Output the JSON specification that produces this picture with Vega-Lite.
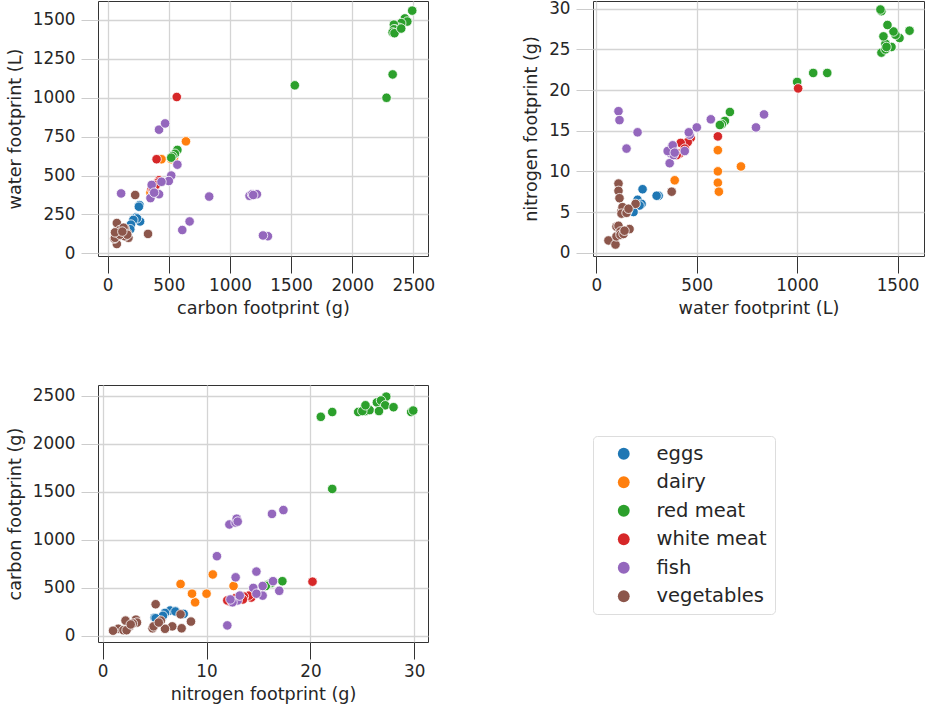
{
 "$schema": "https://vega.github.io/schema/vega-lite/v6.json",
 "background": "white",
 "padding": {"left": 5, "top": 0, "right": 0, "bottom": 0},
 "datasets": {"foods": [
  {"category":"eggs","carbon":260,"water":310,"nitrogen":7.0},
  {"category":"eggs","carbon":230,"water":230,"nitrogen":7.8},
  {"category":"eggs","carbon":265,"water":205,"nitrogen":6.5},
  {"category":"eggs","carbon":240,"water":225,"nitrogen":6.0},
  {"category":"eggs","carbon":210,"water":215,"nitrogen":5.8},
  {"category":"eggs","carbon":190,"water":185,"nitrogen":5.0},
  {"category":"eggs","carbon":185,"water":155,"nitrogen":5.1},
  {"category":"eggs","carbon":255,"water":300,"nitrogen":7.0},
  {"category":"dairy","carbon":640,"water":720,"nitrogen":10.6},
  {"category":"dairy","carbon":350,"water":390,"nitrogen":8.9},
  {"category":"dairy","carbon":520,"water":605,"nitrogen":12.6},
  {"category":"dairy","carbon":440,"water":605,"nitrogen":10.0},
  {"category":"dairy","carbon":440,"water":605,"nitrogen":8.6},
  {"category":"dairy","carbon":540,"water":610,"nitrogen":7.5},
  {"category":"red meat","carbon":2490,"water":1560,"nitrogen":27.3},
  {"category":"red meat","carbon":2430,"water":1510,"nitrogen":26.4},
  {"category":"red meat","carbon":2450,"water":1490,"nitrogen":26.8},
  {"category":"red meat","carbon":2400,"water":1480,"nitrogen":27.2},
  {"category":"red meat","carbon":2380,"water":1450,"nitrogen":28.0},
  {"category":"red meat","carbon":2340,"water":1470,"nitrogen":25.3},
  {"category":"red meat","carbon":2350,"water":1440,"nitrogen":25.7},
  {"category":"red meat","carbon":2340,"water":1430,"nitrogen":26.6},
  {"category":"red meat","carbon":2330,"water":1420,"nitrogen":24.6},
  {"category":"red meat","carbon":2340,"water":1440,"nitrogen":25.0},
  {"category":"red meat","carbon":2330,"water":1420,"nitrogen":29.7},
  {"category":"red meat","carbon":2345,"water":1415,"nitrogen":29.9},
  {"category":"red meat","carbon":2400,"water":1445,"nitrogen":25.3},
  {"category":"red meat","carbon":2330,"water":1150,"nitrogen":22.1},
  {"category":"red meat","carbon":2280,"water":1000,"nitrogen":21.0},
  {"category":"red meat","carbon":1530,"water":1080,"nitrogen":22.1},
  {"category":"red meat","carbon":570,"water":665,"nitrogen":17.3},
  {"category":"red meat","carbon":550,"water":640,"nitrogen":16.2},
  {"category":"red meat","carbon":530,"water":625,"nitrogen":15.8},
  {"category":"red meat","carbon":520,"water":615,"nitrogen":15.7},
  {"category":"white meat","carbon":565,"water":1005,"nitrogen":20.2},
  {"category":"white meat","carbon":400,"water":605,"nitrogen":14.3},
  {"category":"white meat","carbon":420,"water":470,"nitrogen":14.1},
  {"category":"white meat","carbon":410,"water":455,"nitrogen":13.6},
  {"category":"white meat","carbon":380,"water":420,"nitrogen":13.5},
  {"category":"white meat","carbon":360,"water":415,"nitrogen":12.2},
  {"category":"white meat","carbon":395,"water":440,"nitrogen":12.8},
  {"category":"white meat","carbon":370,"water":400,"nitrogen":12.0},
  {"category":"fish","carbon":1310,"water":110,"nitrogen":17.4},
  {"category":"fish","carbon":1270,"water":115,"nitrogen":16.3},
  {"category":"fish","carbon":1160,"water":370,"nitrogen":12.2},
  {"category":"fish","carbon":1180,"water":380,"nitrogen":12.8},
  {"category":"fish","carbon":1220,"water":380,"nitrogen":12.9},
  {"category":"fish","carbon":1190,"water":375,"nitrogen":13.0},
  {"category":"fish","carbon":830,"water":365,"nitrogen":11.0},
  {"category":"fish","carbon":110,"water":385,"nitrogen":12.0},
  {"category":"fish","carbon":610,"water":150,"nitrogen":12.8},
  {"category":"fish","carbon":670,"water":205,"nitrogen":14.8},
  {"category":"fish","carbon":420,"water":795,"nitrogen":15.4},
  {"category":"fish","carbon":470,"water":835,"nitrogen":17.0},
  {"category":"fish","carbon":570,"water":570,"nitrogen":16.4},
  {"category":"fish","carbon":520,"water":500,"nitrogen":15.4},
  {"category":"fish","carbon":500,"water":465,"nitrogen":14.5},
  {"category":"fish","carbon":440,"water":460,"nitrogen":14.8},
  {"category":"fish","carbon":360,"water":440,"nitrogen":12.5},
  {"category":"fish","carbon":370,"water":380,"nitrogen":13.0},
  {"category":"fish","carbon":350,"water":355,"nitrogen":12.5},
  {"category":"fish","carbon":420,"water":380,"nitrogen":13.2},
  {"category":"fish","carbon":380,"water":390,"nitrogen":12.3},
  {"category":"vegetables","carbon":225,"water":375,"nitrogen":7.5},
  {"category":"vegetables","carbon":330,"water":125,"nitrogen":5.1},
  {"category":"vegetables","carbon":150,"water":110,"nitrogen":8.5},
  {"category":"vegetables","carbon":80,"water":110,"nitrogen":7.6},
  {"category":"vegetables","carbon":100,"water":115,"nitrogen":6.7},
  {"category":"vegetables","carbon":75,"water":195,"nitrogen":6.0},
  {"category":"vegetables","carbon":160,"water":130,"nitrogen":5.6},
  {"category":"vegetables","carbon":80,"water":125,"nitrogen":4.8},
  {"category":"vegetables","carbon":100,"water":150,"nitrogen":4.9},
  {"category":"vegetables","carbon":140,"water":160,"nitrogen":5.4},
  {"category":"vegetables","carbon":75,"water":60,"nitrogen":1.5},
  {"category":"vegetables","carbon":55,"water":95,"nitrogen":1.0},
  {"category":"vegetables","carbon":60,"water":100,"nitrogen":2.0},
  {"category":"vegetables","carbon":170,"water":100,"nitrogen":3.2},
  {"category":"vegetables","carbon":140,"water":110,"nitrogen":3.3},
  {"category":"vegetables","carbon":100,"water":120,"nitrogen":2.6},
  {"category":"vegetables","carbon":130,"water":165,"nitrogen":2.9},
  {"category":"vegetables","carbon":160,"water":120,"nitrogen":2.2},
  {"category":"vegetables","carbon":60,"water":135,"nitrogen":2.3},
  {"category":"vegetables","carbon":120,"water":140,"nitrogen":2.7}
 ]},
 "data": {"name": "foods"},
 "columns": 2,
 "spacing": {"row": 129, "column": 165},
 "bounds": "flush",
 "concat": [
  {
   "width": 330, "height": 255,
   "mark": {"type": "point", "filled": true, "size": 90, "opacity": 1, "stroke": "white", "strokeWidth": 0.8},
   "encoding": {
    "x": {"field": "carbon", "type": "quantitative", "title": "carbon footprint (g)", "scale": {"domain": [-79, 2619], "nice": false, "zero": false}, "axis": {"values": [0, 500, 1000, 1500, 2000, 2500], "format": "d"}},
    "y": {"field": "water", "type": "quantitative", "title": "water footprint (L)", "scale": {"domain": [-17, 1622], "nice": false, "zero": false}, "axis": {"values": [0, 250, 500, 750, 1000, 1250, 1500], "format": "d"}},
    "color": {"field": "category", "type": "nominal", "scale": {"domain": ["eggs", "dairy", "red meat", "white meat", "fish", "vegetables"], "range": ["#1f77b4", "#ff7f0e", "#2ca02c", "#d62728", "#9467bd", "#8c564b"]},
     "legend": {"title": null, "orient": "none", "legendX": 495, "legendY": 435, "labelFontSize": 19.5, "labelColor": "#262626", "symbolSize": 140, "symbolType": "circle", "symbolStrokeWidth": 0, "padding": 8, "symbolOffset": 13, "labelOffset": 23, "rowPadding": 7.5, "strokeColor": "#dddddd", "cornerRadius": 4, "fillColor": "white"}}
   }
  },
  {
   "width": 331, "height": 255,
   "mark": {"type": "point", "filled": true, "size": 90, "opacity": 1, "stroke": "white", "strokeWidth": 0.8},
   "encoding": {
    "x": {"field": "water", "type": "quantitative", "title": "water footprint (L)", "scale": {"domain": [-17, 1632], "nice": false, "zero": false}, "axis": {"values": [0, 500, 1000, 1500], "format": "d"}},
    "y": {"field": "nitrogen", "type": "quantitative", "title": "nitrogen footprint (g)", "scale": {"domain": [-0.41, 30.95], "nice": false, "zero": false}, "axis": {"values": [0, 5, 10, 15, 20, 25, 30], "format": "d"}},
    "color": {"field": "category", "type": "nominal"}
   }
  },
  {
   "width": 330, "height": 257,
   "mark": {"type": "point", "filled": true, "size": 90, "opacity": 1, "stroke": "white", "strokeWidth": 0.8},
   "encoding": {
    "x": {"field": "nitrogen", "type": "quantitative", "title": "nitrogen footprint (g)", "scale": {"domain": [-0.45, 31.32], "nice": false, "zero": false}, "axis": {"values": [0, 10, 20, 30], "format": "d"}},
    "y": {"field": "carbon", "type": "quantitative", "title": "carbon footprint (g)", "scale": {"domain": [-62.5, 2611], "nice": false, "zero": false}, "axis": {"values": [0, 500, 1000, 1500, 2000, 2500], "format": "d"}},
    "color": {"field": "category", "type": "nominal"}
   }
  }
 ],
 "config": {
  "font": "DejaVu Sans",
  "view": {"stroke": "#333333", "strokeWidth": 1},
  "axis": {"domain": false, "grid": true, "gridColor": "#d4d4d4", "gridWidth": 1.3, "labelFont": "DejaVu Sans", "labelFontSize": 16.8, "labelColor": "#262626", "titleFont": "DejaVu Sans", "titleFontSize": 17.6, "titleFontWeight": "normal", "titleColor": "#262626", "tickSize": 17, "labelFlush": false, "labelOverlap": false},
  "axisX": {"tickColor": "#333333", "labelPadding": 4, "titlePadding": 6, "labelAngle": 0},
  "axisY": {"tickColor": "#cccccc", "labelPadding": 6, "titlePadding": 8},
  "legend": {"labelFont": "DejaVu Sans"}
 }
}
